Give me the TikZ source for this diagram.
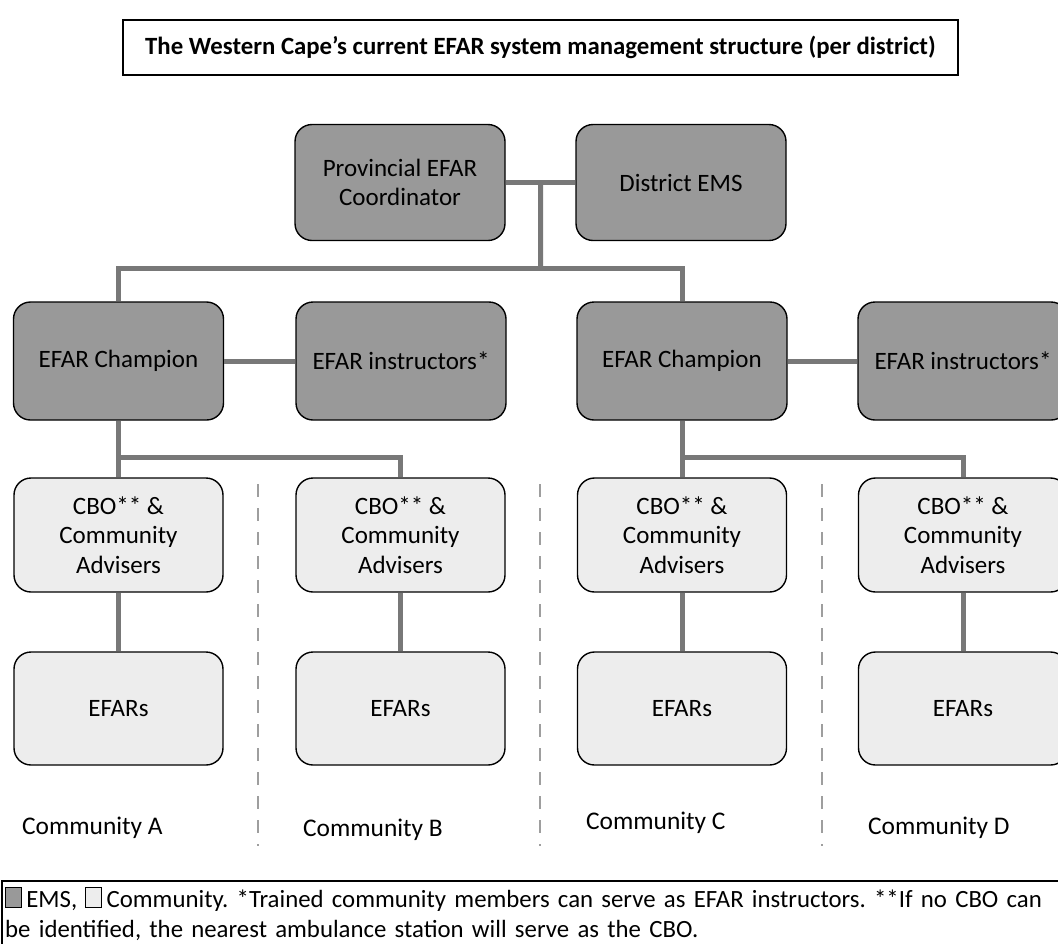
\documentclass[tikz,border=0pt]{standalone}
\usepackage{fontspec}
\setmainfont{Carlito}
\usetikzlibrary{calc}
\definecolor{emsfill}{gray}{0.60}
\definecolor{comfill}{gray}{0.93}
\definecolor{linkgray}{gray}{0.47}
\definecolor{dashgray}{gray}{0.62}
\frenchspacing
\begin{document}
\begin{tikzpicture}[x=1pt,y=-1pt,
  box/.style={draw=black,line width=1.4pt,rounded corners=17pt,align=center,
    font=\fontsize{25}{29.5}\selectfont,inner sep=0pt},
  ems/.style={box,fill=emsfill,minimum width=210pt,minimum height=116pt},
  com/.style={box,fill=comfill,minimum width=209pt,minimum height=114pt},
  conn/.style={draw=linkgray,line width=5pt},
  divider/.style={draw=dashgray,line width=2.5pt,dash pattern=on 13pt off 11pt},
  lbl/.style={font=\fontsize{25.4}{29.5}\selectfont,anchor=west,inner sep=0pt}]
\useasboundingbox (0,0) rectangle (1058,943);
\clip (0,0) rectangle (1058,943);

% title
\node[draw=black,line width=1.2pt,minimum width=835pt,minimum height=55pt,
  font=\bfseries\fontsize{24.8}{28}\selectfont] (title) at (540.5,47.5)
  {The Western Cape’s current EFAR system management structure (per district)};

% province and district level
\node[ems] (prov) at (400,182.5) {Provincial EFAR\\Coordinator};
\node[ems] (dist) at (681,182.5) {District EMS};

% champions and instructors
\node[ems,minimum height=118pt] (champA) at (118.5,361) {EFAR Champion};
\node[ems,minimum height=118pt] (instA) at (401,361) {EFAR instructors*};
\node[ems,minimum height=118pt] (champB) at (682,361) {EFAR Champion};
\node[ems,minimum height=118pt] (instB) at (963,361) {EFAR instructors*};

% community organisations
\node[com] (cboA) at (118.5,535) {CBO** \&\\Community\\Advisers};
\node[com] (cboB) at (400.5,535) {CBO** \&\\Community\\Advisers};
\node[com] (cboC) at (682,535) {CBO** \&\\Community\\Advisers};
\node[com] (cboD) at (963,535) {CBO** \&\\Community\\Advisers};

% responders
\node[com,minimum height=113pt] (efA) at (118.5,708.5) {EFARs};
\node[com,minimum height=113pt] (efB) at (400.5,708.5) {EFARs};
\node[com,minimum height=113pt] (efC) at (682,708.5) {EFARs};
\node[com,minimum height=113pt] (efD) at (963,708.5) {EFARs};

% connectors
\coordinate (topmid) at ($(prov.east)!0.5!(dist.west)$);
\coordinate (bus0) at (540.5,268);
\coordinate (busA) at (118.5,457);
\coordinate (busB) at (682,457);
\draw[conn] (prov.east) -- (dist.west);
\draw[conn] (topmid) -- (bus0);
\draw[conn] (champA.north) |- (bus0) -| (champB.north);
\draw[conn] (champA.east) -- (instA.west);
\draw[conn] (champB.east) -- (instB.west);
\draw[conn] (champA.south) -- (cboA.north);
\draw[conn] (busA) -| (cboB.north);
\draw[conn] (champB.south) -- (cboC.north);
\draw[conn] (busB) -| (cboD.north);
\draw[conn] (cboA.south) -- (efA.north);
\draw[conn] (cboB.south) -- (efB.north);
\draw[conn] (cboC.south) -- (efC.north);
\draw[conn] (cboD.south) -- (efD.north);

% community dividers
\coordinate (d1t) at (258,484); \coordinate (d1b) at (258,846);
\coordinate (d2t) at (540,484); \coordinate (d2b) at (540,846);
\coordinate (d3t) at (822,484); \coordinate (d3b) at (822,846);
\draw[divider] (d1t) -- (d1b);
\draw[divider] (d2t) -- (d2b);
\draw[divider] (d3t) -- (d3b);

% community labels
\node[lbl] (labA) at (22,828) {Community A};
\node[lbl] (labB) at (303,830) {Community B};
\node[lbl] (labC) at (586,823) {Community C};
\node[lbl] (labD) at (868,828) {Community D};

% key
\draw[line width=1.2pt] (2,881) rectangle (1070,960);
\node[lbl,anchor=north west,text width=1050pt,align=left,
  font=\fontsize{24.8}{30}\selectfont] (key) at (5,887)
  {{\fboxsep=0pt\fboxrule=1pt\fcolorbox{black}{emsfill}{\rule{0pt}{19pt}\hspace{15pt}}}\,EMS,
   {\fboxsep=0pt\fboxrule=1pt\fcolorbox{black}{comfill}{\rule{0pt}{19pt}\hspace{15pt}}}\,Community.
   *Trained community members can serve as EFAR instructors. **If no CBO can\\
   be identified, the nearest ambulance station will serve as the CBO.};
\end{tikzpicture}
\end{document}
